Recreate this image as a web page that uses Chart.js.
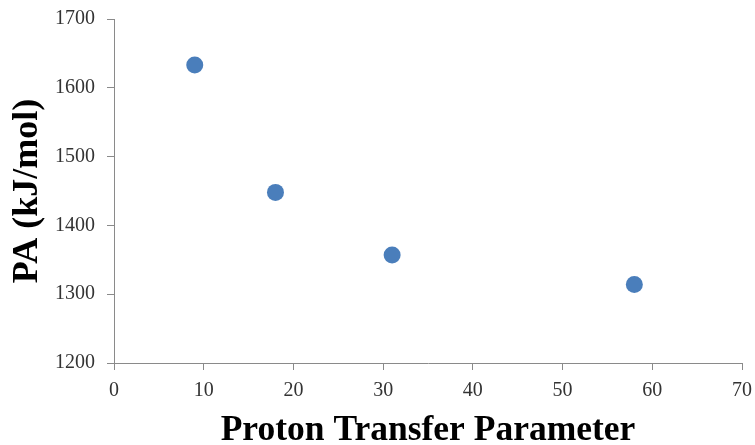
<!DOCTYPE html>
<html>
<head>
<meta charset="utf-8">
<script src="https://cdn.jsdelivr.net/npm/chart.js@4.4.1/dist/chart.umd.min.js"></script>
<style>
  html, body { margin: 0; padding: 0; background: #ffffff; }
  #wrap { width: 755px; height: 445px; position: relative; }
</style>
</head>
<body>
<div id="wrap"><canvas id="c" width="755" height="445"></canvas></div>
<script>
// Proton transfer parameter vs. proton affinity
const transferParam = [9, 18, 31, 58];
const protonAffinity = [1633, 1448, 1357, 1314];

const xTicks = [0, 10, 20, 30, 40, 50, 60, 70];
const yTicks = [1200, 1300, 1400, 1500, 1600, 1700];

const xTitle = 'Proton Transfer Parameter';
const yTitle = 'PA (kJ/mol)';

const points = transferParam.map((x, i) => ({ x: x, y: protonAffinity[i] }));

const axisGray = '#8a8a8a';
const serif = "'Liberation Serif', 'Times New Roman', serif";

new Chart(document.getElementById('c'), {
  type: 'scatter',
  data: {
    datasets: [{
      data: points,
      backgroundColor: '#4a7ebb',
      borderWidth: 0,
      pointRadius: 8.5,
      pointHoverRadius: 8.5
    }]
  },
  options: {
    responsive: false,
    animation: false,
    devicePixelRatio: 1,
    layout: { padding: { top: 19, right: 13, left: 0, bottom: 0 } },
    plugins: { legend: { display: false }, tooltip: { enabled: false } },
    scales: {
      x: {
        type: 'linear',
        min: xTicks[0],
        max: xTicks[xTicks.length - 1],
        afterBuildTicks: s => { s.ticks = xTicks.map(v => ({ value: v })); },
        afterFit: s => { s.height = 82; s.paddingLeft = 0; s.paddingRight = 0; },
        grid: { drawOnChartArea: false, drawTicks: true, tickLength: 7, color: axisGray },
        border: { display: true, color: axisGray, width: 1 },
        ticks: {
          font: { family: serif, size: 20 }, color: '#333333', padding: 9, maxRotation: 0,
          callback: v => String(v)
        },
        title: {
          display: true,
          text: xTitle,
          font: { family: serif, size: 35.5, weight: 'bold', lineHeight: 1.0 },
          color: '#000000',
          padding: { top: 0, bottom: -4 }
        }
      },
      y: {
        type: 'linear',
        min: yTicks[0],
        max: yTicks[yTicks.length - 1],
        afterBuildTicks: s => { s.ticks = yTicks.map(v => ({ value: v })); },
        afterFit: s => { s.width = 114; s.paddingTop = 0; s.paddingBottom = 0; },
        grid: { drawOnChartArea: false, drawTicks: true, tickLength: 7, color: axisGray },
        border: { display: true, color: axisGray, width: 1 },
        ticks: {
          font: { family: serif, size: 20 }, color: '#333333', padding: 12,
          callback: v => String(v)
        },
        title: {
          display: true,
          text: yTitle,
          font: { family: serif, size: 36, weight: 'bold', lineHeight: 1.0 },
          color: '#000000',
          padding: { top: 10, bottom: 0 }
        }
      }
    }
  }
});
</script>
</body>
</html>
